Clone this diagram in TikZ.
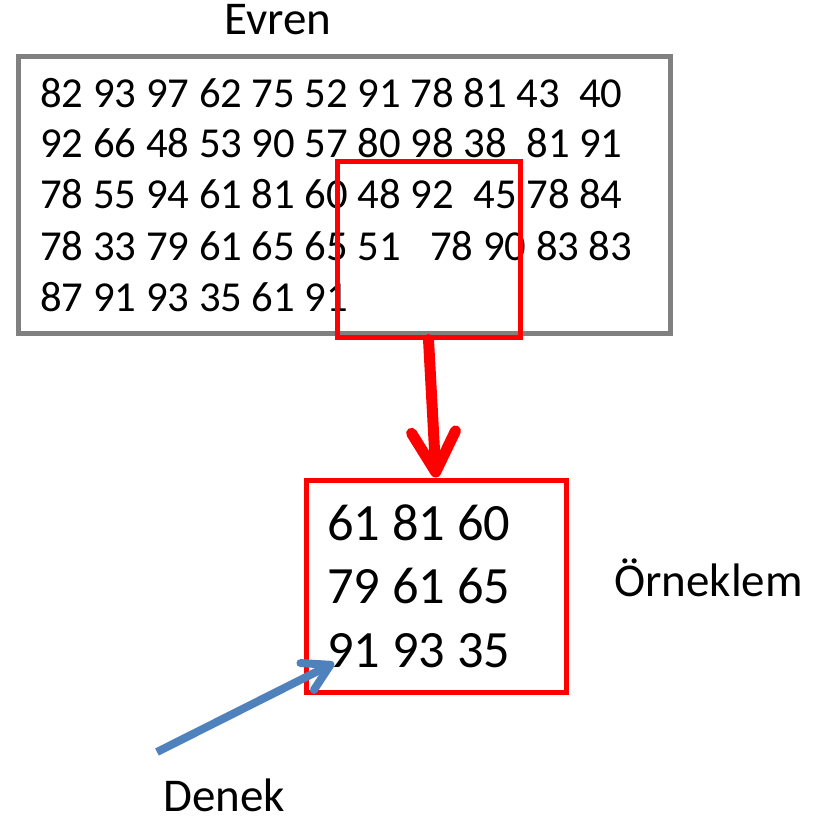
\documentclass[tikz,border=0pt]{standalone}
\usepackage{fontspec}
\setmainfont{Carlito}
\usetikzlibrary{arrows.meta}
\definecolor{kutugri}{RGB}{128,128,128}
\definecolor{denekmavi}{RGB}{79,129,189}
\begin{document}
\begin{tikzpicture}[x=1pt,y=-1pt,
  sayi/.style={anchor=base west,inner sep=0pt,font=\fontsize{42.7}{50}\selectfont},
  buyuksayi/.style={anchor=base west,inner sep=0pt,font=\fontsize{52.4}{60}\selectfont},
  etiket/.style={anchor=base west,inner sep=0pt,font=\fontsize{47}{54}\selectfont},
  kutu/.style={draw,inner sep=0pt,line width=5pt}
  ]
    \useasboundingbox (0,0) rectangle (820,826);

    % evren
    \node[kutu,draw=kutugri,minimum width=652pt,minimum height=276pt] (evren) at (344,195) {};
    \node[etiket] (evrenad) at (224,35) {Evren};
    \node[sayi] (r1) at (40,108) {82 93 97 62 75 52 91 78 81 43\ \ 40};
    \node[sayi] (r2) at (40,158) {92 66 48 53 90 57 80 98 38\ \ 81 91};
    \node[sayi] (r3) at (40,208) {78 55 94 61 81 60 48 92\ \ 45 78 84};
    \node[sayi] (r4) at (40,260) {78 33 79 61 65 65 51\ \ \ 78 90 83 83};
    \node[sayi] (r5) at (40,311) {87 91 93 35 61 91};
    \node[kutu,draw=red,minimum width=183pt,minimum height=175pt] (secim) at (428.5,249.5) {};

    % orneklem
    \node[kutu,draw=red,minimum width=260pt,minimum height=212pt] (orneklem) at (436,586) {};
    \node[buyuksayi] (s1) at (327,540) {61 81 60};
    \node[buyuksayi] (s2) at (327,603) {79 61 65};
    \node[buyuksayi] (s3) at (327,667) {91 93 35};
    \node[etiket] (orneklemad) at (614,596) {Örneklem};

    \draw[red,line width=11pt,line cap=round,
      -{Straight Barb[length=40pt,width=44pt,line cap=round,round]}]
      (secim.south) -- (orneklem.north);

    % denek
    \node[etiket] (denekad) at (163,811) {Denek};
    \coordinate (kuyruk) at (157,752);
    \coordinate (ucu) at (334,663);
    \draw[denekmavi,line width=8pt,
      -{Straight Barb[length=26pt,width=30pt,line cap=round,round]}]
      (kuyruk) -- (ucu);
\end{tikzpicture}
\end{document}
